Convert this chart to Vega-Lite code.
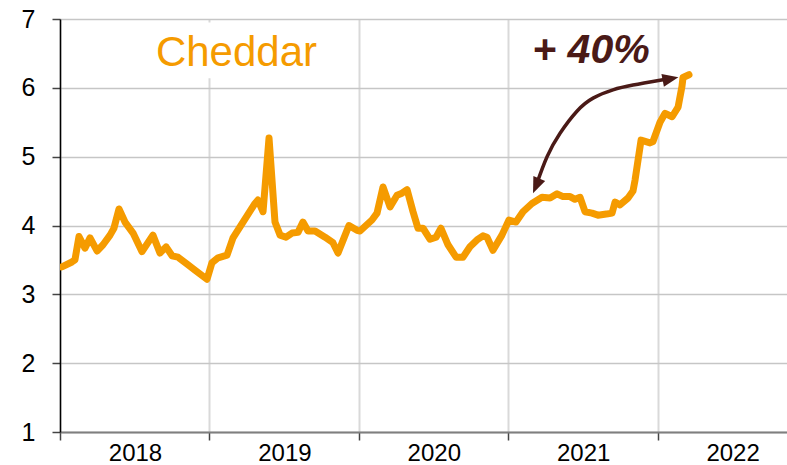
{
  "$schema": "https://vega.github.io/schema/vega-lite/v6.json",
  "width": 727,
  "height": 413,
  "autosize": {"type": "none"},
  "padding": {"left": 60, "top": 19, "right": 0, "bottom": 33},
  "config": {"view": {"stroke": null}, "font": "Liberation Sans"},
  "datasets": {
    "cheddar": [
      {"t": 2018.013, "v": 3.40}, {"t": 2018.080, "v": 3.47}, {"t": 2018.100, "v": 3.50}, {"t": 2018.127, "v": 3.84},
      {"t": 2018.167, "v": 3.67}, {"t": 2018.201, "v": 3.82}, {"t": 2018.248, "v": 3.63}, {"t": 2018.288, "v": 3.72},
      {"t": 2018.335, "v": 3.86}, {"t": 2018.361, "v": 3.96}, {"t": 2018.395, "v": 4.24}, {"t": 2018.435, "v": 4.05},
      {"t": 2018.489, "v": 3.89}, {"t": 2018.549, "v": 3.62}, {"t": 2018.622, "v": 3.86}, {"t": 2018.669, "v": 3.60},
      {"t": 2018.710, "v": 3.69}, {"t": 2018.750, "v": 3.56}, {"t": 2018.790, "v": 3.54}, {"t": 2018.850, "v": 3.44},
      {"t": 2018.904, "v": 3.35}, {"t": 2018.984, "v": 3.22}, {"t": 2019.017, "v": 3.46}, {"t": 2019.058, "v": 3.53},
      {"t": 2019.118, "v": 3.57}, {"t": 2019.158, "v": 3.82}, {"t": 2019.225, "v": 4.05}, {"t": 2019.305, "v": 4.32},
      {"t": 2019.325, "v": 4.37}, {"t": 2019.359, "v": 4.20}, {"t": 2019.399, "v": 5.27}, {"t": 2019.439, "v": 4.05},
      {"t": 2019.473, "v": 3.86}, {"t": 2019.513, "v": 3.83}, {"t": 2019.553, "v": 3.89}, {"t": 2019.593, "v": 3.90},
      {"t": 2019.626, "v": 4.05}, {"t": 2019.660, "v": 3.92}, {"t": 2019.707, "v": 3.92}, {"t": 2019.774, "v": 3.83},
      {"t": 2019.827, "v": 3.75}, {"t": 2019.861, "v": 3.60}, {"t": 2019.901, "v": 3.82}, {"t": 2019.934, "v": 4.00},
      {"t": 2019.988, "v": 3.93}, {"t": 2020.008, "v": 3.92}, {"t": 2020.088, "v": 4.08}, {"t": 2020.122, "v": 4.18},
      {"t": 2020.162, "v": 4.56}, {"t": 2020.209, "v": 4.27}, {"t": 2020.256, "v": 4.44}, {"t": 2020.289, "v": 4.47},
      {"t": 2020.323, "v": 4.52}, {"t": 2020.363, "v": 4.20}, {"t": 2020.396, "v": 3.96}, {"t": 2020.430, "v": 3.96},
      {"t": 2020.477, "v": 3.80}, {"t": 2020.517, "v": 3.83}, {"t": 2020.550, "v": 3.96}, {"t": 2020.597, "v": 3.72},
      {"t": 2020.651, "v": 3.54}, {"t": 2020.697, "v": 3.54}, {"t": 2020.744, "v": 3.69}, {"t": 2020.791, "v": 3.79},
      {"t": 2020.831, "v": 3.85}, {"t": 2020.858, "v": 3.83}, {"t": 2020.898, "v": 3.64}, {"t": 2020.958, "v": 3.86},
      {"t": 2021.005, "v": 4.08}, {"t": 2021.052, "v": 4.05}, {"t": 2021.099, "v": 4.20}, {"t": 2021.159, "v": 4.32},
      {"t": 2021.226, "v": 4.41}, {"t": 2021.280, "v": 4.40}, {"t": 2021.327, "v": 4.46}, {"t": 2021.367, "v": 4.42},
      {"t": 2021.414, "v": 4.42}, {"t": 2021.447, "v": 4.38}, {"t": 2021.481, "v": 4.41}, {"t": 2021.514, "v": 4.20},
      {"t": 2021.561, "v": 4.18}, {"t": 2021.601, "v": 4.15}, {"t": 2021.668, "v": 4.17}, {"t": 2021.695, "v": 4.18},
      {"t": 2021.715, "v": 4.34}, {"t": 2021.748, "v": 4.30}, {"t": 2021.802, "v": 4.40}, {"t": 2021.835, "v": 4.50},
      {"t": 2021.849, "v": 4.66}, {"t": 2021.889, "v": 5.24}, {"t": 2021.949, "v": 5.20}, {"t": 2021.969, "v": 5.22},
      {"t": 2022.016, "v": 5.50}, {"t": 2022.050, "v": 5.63}, {"t": 2022.097, "v": 5.58}, {"t": 2022.137, "v": 5.72},
      {"t": 2022.163, "v": 6.02}, {"t": 2022.170, "v": 6.15}, {"t": 2022.210, "v": 6.19}
    ],
    "arrow": [
      {"t": 2021.193, "v": 4.62}, {"t": 2021.260, "v": 5.00}, {"t": 2021.347, "v": 5.34}, {"t": 2021.460, "v": 5.66},
      {"t": 2021.568, "v": 5.85}, {"t": 2021.701, "v": 5.97}, {"t": 2021.835, "v": 6.04}, {"t": 2022.016, "v": 6.11},
      {"t": 2022.096, "v": 6.14}
    ],
    "headLow": [{"t": 2021.166, "v": 4.47}],
    "headHigh": [{"t": 2022.139, "v": 6.153}],
    "box": [{"t1": 2018.60, "t2": 2019.77, "v1": 6.14, "v2": 6.95}],
    "labels": [
      {"t": 2019.181, "v": 6.317, "label": "Cheddar", "kind": "title"},
      {"t": 2021.554, "v": 6.361, "label": "+ 40%", "kind": "pct"}
    ]
  },
  "layer": [
    {
      "data": {"name": "cheddar"},
      "mark": {"type": "line", "color": "#F59B00", "strokeWidth": 7, "strokeCap": "round", "strokeJoin": "round", "clip": true},
      "encoding": {
        "x": {
          "field": "t", "type": "quantitative",
          "scale": {"domain": [2018, 2022.866], "nice": false, "zero": false},
          "axis": {
            "title": null, "values": [2018, 2019, 2020, 2021, 2022], "format": "d",
            "labelOffset": 75, "labelFontSize": 24, "labelColor": "#000000", "labelPadding": 1,
            "labelOverlap": false, "labelFlush": false, "labelBound": false,
            "tickSize": 8, "tickColor": "#444444", "tickWidth": 1.5,
            "domainColor": "#7f7f7f", "domainWidth": 2,
            "grid": true, "gridColor": "#d9d9d9", "gridWidth": 2
          }
        },
        "y": {
          "field": "v", "type": "quantitative",
          "scale": {"domain": [1, 7], "nice": false, "zero": false},
          "axis": {
            "title": null, "values": [1, 2, 3, 4, 5, 6, 7], "format": "d",
            "labelFontSize": 25, "labelColor": "#000000", "labelPadding": 17,
            "tickSize": 8, "tickColor": "#444444", "tickWidth": 1.5,
            "domainColor": "#000000", "domainWidth": 1.5,
            "grid": true, "gridColor": "#c6c6c6", "gridWidth": 1.5
          }
        }
      }
    },
    {
      "data": {"name": "box"},
      "mark": {"type": "rect", "color": "#ffffff"},
      "encoding": {
        "x": {"field": "t1", "type": "quantitative"},
        "x2": {"field": "t2"},
        "y": {"field": "v1", "type": "quantitative"},
        "y2": {"field": "v2"}
      }
    },
    {
      "data": {"name": "arrow"},
      "mark": {"type": "line", "color": "#4A1A17", "strokeWidth": 3.5, "interpolate": "natural"},
      "encoding": {
        "x": {"field": "t", "type": "quantitative"},
        "y": {"field": "v", "type": "quantitative"}
      }
    },
    {
      "data": {"name": "headLow"},
      "mark": {"type": "point", "filled": true, "color": "#4A1A17", "opacity": 1, "shape": "M0,0L-0.8,2L0.8,2Z", "size": 256, "angle": 203},
      "encoding": {
        "x": {"field": "t", "type": "quantitative"},
        "y": {"field": "v", "type": "quantitative"}
      }
    },
    {
      "data": {"name": "headHigh"},
      "mark": {"type": "point", "filled": true, "color": "#4A1A17", "opacity": 1, "shape": "M0,0L-0.8,2L0.8,2Z", "size": 256, "angle": 79},
      "encoding": {
        "x": {"field": "t", "type": "quantitative"},
        "y": {"field": "v", "type": "quantitative"}
      }
    },
    {
      "data": {"name": "labels"},
      "transform": [{"filter": "datum.kind === 'title'"}],
      "mark": {"type": "text", "color": "#F59B00", "fontSize": 42, "align": "center", "baseline": "alphabetic"},
      "encoding": {
        "x": {"field": "t", "type": "quantitative"},
        "y": {"field": "v", "type": "quantitative"},
        "text": {"field": "label"}
      }
    },
    {
      "data": {"name": "labels"},
      "transform": [{"filter": "datum.kind === 'pct'"}],
      "mark": {"type": "text", "color": "#4A1A17", "fontSize": 41, "fontWeight": "bold", "fontStyle": "italic", "align": "center", "baseline": "alphabetic"},
      "encoding": {
        "x": {"field": "t", "type": "quantitative"},
        "y": {"field": "v", "type": "quantitative"},
        "text": {"field": "label"}
      }
    }
  ]
}
